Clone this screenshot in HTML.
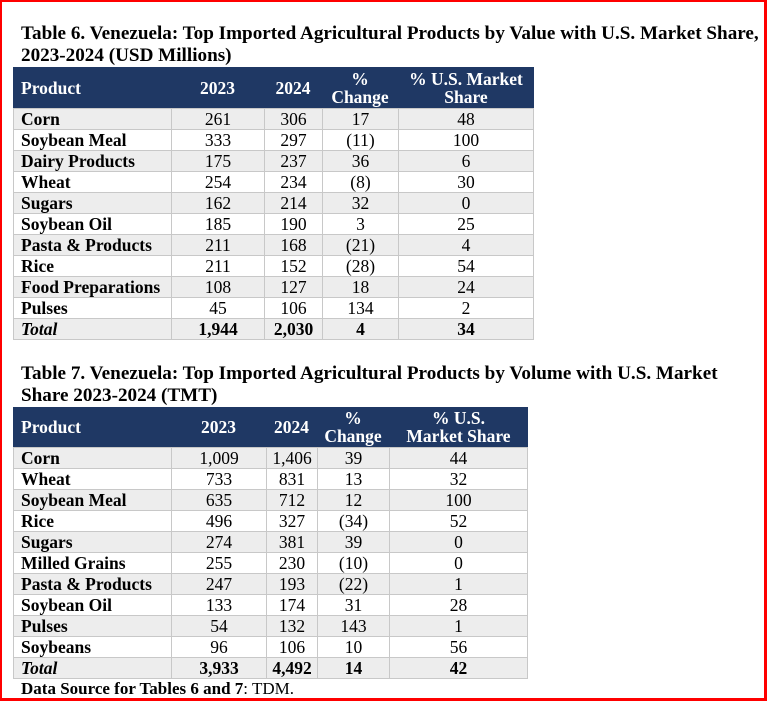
<!DOCTYPE html>
<html>
<head>
<meta charset="utf-8">
<style>
  html, body { margin:0; padding:0; background:#fff; }
  body { width:767px; height:701px; position:relative; overflow:hidden;
         font-family:"Liberation Serif","Times New Roman",serif; color:#000; }
  .frame { position:absolute; left:0; top:0; width:767px; height:701px; box-sizing:border-box;
           border-left:2px solid #ff0000; border-top:2px solid #ff0000;
           border-right:3px solid #ff0000; border-bottom:3px solid #ff0000; }
  .title { position:absolute; left:21px; font-size:19.15px; font-weight:bold; line-height:22px; white-space:nowrap; }
  .tbl { position:absolute; left:13px; }
  .hdr { display:flex; background:#1f3864; color:#fff; font-weight:bold; font-size:17.5px; }
  .hdr div { box-sizing:border-box; display:flex; align-items:center; justify-content:center;
             text-align:center; line-height:18px; }
  .hdr div.l { justify-content:flex-start; padding-left:8px; }
  .row { display:flex; height:21px; box-sizing:border-box; border-top:1px solid #c8c8c8; font-size:17.5px; line-height:20px; }
  .row.g { background:#ededed; }
  .row.last { height:22px; border-bottom:1px solid #c8c8c8; }
  .row div { box-sizing:border-box; border-left:1px solid #c8c8c8; text-align:center; white-space:nowrap; }
  .row div.l { text-align:left; padding-left:7px; font-weight:bold; }
  .row div.r { border-right:1px solid #c8c8c8; }
  .row.tot div { font-weight:bold; }
  .row.tot div.l { font-style:italic; }
  .src { position:absolute; left:21px; top:679px; font-size:17px; line-height:20px; white-space:nowrap; }
</style>
</head>
<body>
<div class="frame"></div>

<div class="title" style="top:23px;">Table 6. Venezuela: Top Imported Agricultural Products by Value with U.S. Market Share,<br>2023-2024 (USD Millions)</div>

<div class="tbl" style="top:67px;">
  <div class="hdr" style="height:41px;">
    <div class="l" style="width:158px;">Product</div>
    <div style="width:93px;">2023</div>
    <div style="width:58px;">2024</div>
    <div style="width:76px;">%<br>Change</div>
    <div style="width:136px;">% U.S. Market<br>Share</div>
  </div>
  <div class="row g"><div class="l" style="width:158px;">Corn</div><div style="width:93px;">261</div><div style="width:58px;">306</div><div style="width:76px;">17</div><div class="r" style="width:136px;">48</div></div>
  <div class="row"><div class="l" style="width:158px;">Soybean Meal</div><div style="width:93px;">333</div><div style="width:58px;">297</div><div style="width:76px;">(11)</div><div class="r" style="width:136px;">100</div></div>
  <div class="row g"><div class="l" style="width:158px;">Dairy Products</div><div style="width:93px;">175</div><div style="width:58px;">237</div><div style="width:76px;">36</div><div class="r" style="width:136px;">6</div></div>
  <div class="row"><div class="l" style="width:158px;">Wheat</div><div style="width:93px;">254</div><div style="width:58px;">234</div><div style="width:76px;">(8)</div><div class="r" style="width:136px;">30</div></div>
  <div class="row g"><div class="l" style="width:158px;">Sugars</div><div style="width:93px;">162</div><div style="width:58px;">214</div><div style="width:76px;">32</div><div class="r" style="width:136px;">0</div></div>
  <div class="row"><div class="l" style="width:158px;">Soybean Oil</div><div style="width:93px;">185</div><div style="width:58px;">190</div><div style="width:76px;">3</div><div class="r" style="width:136px;">25</div></div>
  <div class="row g"><div class="l" style="width:158px;">Pasta &amp; Products</div><div style="width:93px;">211</div><div style="width:58px;">168</div><div style="width:76px;">(21)</div><div class="r" style="width:136px;">4</div></div>
  <div class="row"><div class="l" style="width:158px;">Rice</div><div style="width:93px;">211</div><div style="width:58px;">152</div><div style="width:76px;">(28)</div><div class="r" style="width:136px;">54</div></div>
  <div class="row g"><div class="l" style="width:158px;">Food Preparations</div><div style="width:93px;">108</div><div style="width:58px;">127</div><div style="width:76px;">18</div><div class="r" style="width:136px;">24</div></div>
  <div class="row"><div class="l" style="width:158px;">Pulses</div><div style="width:93px;">45</div><div style="width:58px;">106</div><div style="width:76px;">134</div><div class="r" style="width:136px;">2</div></div>
  <div class="row g tot last"><div class="l" style="width:158px;">Total</div><div style="width:93px;">1,944</div><div style="width:58px;">2,030</div><div style="width:76px;">4</div><div class="r" style="width:136px;">34</div></div>
</div>

<div class="title" style="top:363px;">Table 7. Venezuela: Top Imported Agricultural Products by Volume with U.S. Market<br>Share 2023-2024 (TMT)</div>

<div class="tbl" style="top:407px;">
  <div class="hdr" style="height:40px;">
    <div class="l" style="width:158px;">Product</div>
    <div style="width:95px;">2023</div>
    <div style="width:51px;">2024</div>
    <div style="width:72px;">%<br>Change</div>
    <div style="width:139px;">% U.S.<br>Market Share</div>
  </div>
  <div class="row g"><div class="l" style="width:158px;">Corn</div><div style="width:95px;">1,009</div><div style="width:51px;">1,406</div><div style="width:72px;">39</div><div class="r" style="width:139px;">44</div></div>
  <div class="row"><div class="l" style="width:158px;">Wheat</div><div style="width:95px;">733</div><div style="width:51px;">831</div><div style="width:72px;">13</div><div class="r" style="width:139px;">32</div></div>
  <div class="row g"><div class="l" style="width:158px;">Soybean Meal</div><div style="width:95px;">635</div><div style="width:51px;">712</div><div style="width:72px;">12</div><div class="r" style="width:139px;">100</div></div>
  <div class="row"><div class="l" style="width:158px;">Rice</div><div style="width:95px;">496</div><div style="width:51px;">327</div><div style="width:72px;">(34)</div><div class="r" style="width:139px;">52</div></div>
  <div class="row g"><div class="l" style="width:158px;">Sugars</div><div style="width:95px;">274</div><div style="width:51px;">381</div><div style="width:72px;">39</div><div class="r" style="width:139px;">0</div></div>
  <div class="row"><div class="l" style="width:158px;">Milled Grains</div><div style="width:95px;">255</div><div style="width:51px;">230</div><div style="width:72px;">(10)</div><div class="r" style="width:139px;">0</div></div>
  <div class="row g"><div class="l" style="width:158px;">Pasta &amp; Products</div><div style="width:95px;">247</div><div style="width:51px;">193</div><div style="width:72px;">(22)</div><div class="r" style="width:139px;">1</div></div>
  <div class="row"><div class="l" style="width:158px;">Soybean Oil</div><div style="width:95px;">133</div><div style="width:51px;">174</div><div style="width:72px;">31</div><div class="r" style="width:139px;">28</div></div>
  <div class="row g"><div class="l" style="width:158px;">Pulses</div><div style="width:95px;">54</div><div style="width:51px;">132</div><div style="width:72px;">143</div><div class="r" style="width:139px;">1</div></div>
  <div class="row"><div class="l" style="width:158px;">Soybeans</div><div style="width:95px;">96</div><div style="width:51px;">106</div><div style="width:72px;">10</div><div class="r" style="width:139px;">56</div></div>
  <div class="row g tot last"><div class="l" style="width:158px;">Total</div><div style="width:95px;">3,933</div><div style="width:51px;">4,492</div><div style="width:72px;">14</div><div class="r" style="width:139px;">42</div></div>
</div>

<div class="src"><b>Data Source for Tables 6 and 7</b>: TDM.</div>
</body>
</html>
